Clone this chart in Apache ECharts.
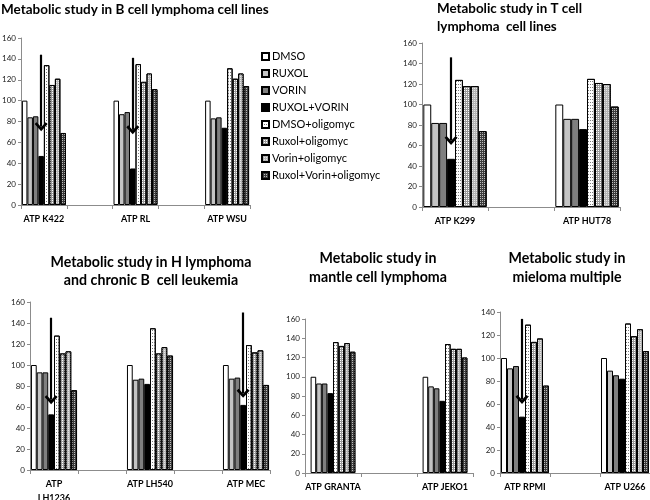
<!DOCTYPE html>
<html><head><meta charset="utf-8">
<script src="https://cdn.jsdelivr.net/npm/echarts@6/dist/echarts.min.js"></script>
<style>html,body{margin:0;padding:0;background:#fff}#c{width:650px;height:500px}</style>
</head><body><div id="c"></div>
<script>
const treatments = ['DMSO','RUXOL','VORIN','RUXOL+VORIN','DMSO+oligomyc','Ruxol+oligomyc','Vorin+oligomyc','Ruxol+Vorin+oligomyc'];

// B cell lymphoma
const bCellLines = ['ATP K422','ATP RL','ATP WSU'];
const bCellValues = [
  [100,84,85,47,134,115,121,69],
  [100,87,89,35,135,118,126,111],
  [100,83,84,74,131,121,126,114]
];
const bCellArrows = [[144,75],[141,72],null];

// T cell lymphoma
const tCellLines = ['ATP K299','ATP HUT78'];
const tCellValues = [
  [100,82,82,47,124,118,118,74],
  [100,86,86,76,125,121,120,98]
];
const tCellArrows = [[146,65],null];

// H lymphoma and chronic B cell leukemia
const hLines = ['ATP\nLH1236','ATP LH540','ATP MEC'];
const hValues = [
  [100,93,93,53,128,111,113,76],
  [100,86,87,82,135,111,117,109],
  [100,87,88,62,119,112,114,81]
];
const hArrows = [[145,67],null,[150,73]];

// mantle cell lymphoma
const mantleLines = ['ATP GRANTA','ATP JEKO1'];
const mantleValues = [
  [100,93,93,83,136,132,135,126],
  [100,90,88,75,134,129,129,120]
];
const mantleArrows = [null,null];

// mieloma multiple
const myelomaLines = ['ATP RPMI','ATP U266'];
const myelomaValues = [
  [100,91,93,49,129,114,117,76],
  [100,89,85,82,130,119,125,106]
];
const myelomaArrows = [[134,64],null];

const panelTitles = [
  'Metabolic study in B cell lymphoma cell lines',
  'Metabolic study in T cell\nlymphoma  cell lines',
  'Metabolic study in H lymphoma\nand chronic B  cell leukemia',
  'Metabolic study in\nmantle cell lymphoma',
  'Metabolic study in\nmieloma multiple'
];
const yMaxes = [160,160,160,160,140];

// ---- styling / layout ----
const FONT = 'Lato';
const fills = ['#ffffff','#c4c4c4','#7f7f7f','#000000','#ffffff','#9a9a9a','#b4b4b4','#3c3c3c'];
const decals = [
  null,null,null,null,
  {symbol:'rect', symbolSize:1, color:'#7a7a7a', dashArrayX:[1,1], dashArrayY:[1,2]},
  {symbol:'rect', symbolSize:1, color:'#ffffff', dashArrayX:[1,1], dashArrayY:[1,1]},
  {symbol:'rect', symbolSize:1, color:'#e6e6e6', dashArrayX:[1,1], dashArrayY:[1,1]},
  {symbol:'rect', symbolSize:1, color:'#bdbdbd', dashArrayX:[1,1], dashArrayY:[1,1]}
];
const panels = [
  {lines:bCellLines, values:bCellValues, arrows:bCellArrows, gap:'4%', grid:{left:21, top:38, width:229, height:167}},
  {lines:tCellLines, values:tCellValues, arrows:tCellArrows, gap:'4%', grid:{left:422, top:43, width:198, height:164}},
  {lines:hLines, values:hValues, arrows:hArrows, gap:'4%', grid:{left:30, top:302, width:240, height:168}},
  {lines:mantleLines, values:mantleValues, arrows:mantleArrows, gap:'20%', grid:{left:305, top:319, width:168, height:154}},
  {lines:myelomaLines, values:myelomaValues, arrows:myelomaArrows, gap:'4%', grid:{left:500, top:312, width:150, height:161}}
];
const titlePos = [
  {left:1, top:1, textAlign:'left', size:13.5, lh:18},
  {left:437, top:0, textAlign:'left', size:13.4, lh:18},
  {left:151, top:253, textAlign:'center', size:14.2, lh:18},
  {left:378, top:249, textAlign:'center', size:14.2, lh:19},
  {left:567, top:249, textAlign:'center', size:14.2, lh:19}
];
const chevron = 'path://M0,8 L8,0 L16,8 L13.5,10 L8,4.5 L2.5,10 Z';

const grids=[], xAxes=[], yAxes=[], series=[], titles=[];
panels.forEach((p, pi) => {
  const cats = [];
  p.lines.forEach((l, i) => { if (i > 0) cats.push(' '.repeat(i)); cats.push(l); });
  grids.push(Object.assign({containLabel:false, outerBoundsMode:'none'}, p.grid));
  xAxes.push({
    type:'category', gridIndex:pi, data:cats,
    axisLine:{lineStyle:{color:'#8c8c8c', width:1}},
    axisTick:{show:true, length:4, lineStyle:{color:'#8c8c8c'}},
    axisLabel:{interval:0, margin:7, fontSize:9, fontWeight:'bold', color:'#000', fontFamily:FONT,
               lineHeight:14, verticalAlign:'top'}
  });
  yAxes.push({
    type:'value', gridIndex:pi, min:0, max:yMaxes[pi], interval:20,
    axisLine:{show:true, lineStyle:{color:'#8c8c8c', width:1}},
    axisTick:{show:true, length:3, lineStyle:{color:'#8c8c8c'}},
    splitLine:{show:false},
    axisLabel:{fontSize:8, color:'#222', margin:5, fontFamily:FONT}
  });
  const tp = titlePos[pi];
  titles.push({text:panelTitles[pi], left:tp.left, top:tp.top, textAlign:tp.textAlign, padding:0,
    textStyle:{fontSize:tp.size, fontWeight:'bold', color:'#000', fontFamily:FONT, lineHeight:tp.lh}});
  treatments.forEach((t, ti) => {
    const data = [];
    p.values.forEach((v, i) => { if (i > 0) data.push('-'); data.push(v[ti]); });
    const itemStyle = {color:fills[ti], borderColor:'#000', borderWidth:1};
    if (decals[ti]) itemStyle.decal = decals[ti];
    const s = {
      type:'bar', name:t, xAxisIndex:pi, yAxisIndex:pi, data:data,
      barGap:'0%', barCategoryGap:p.gap, animation:false,
      itemStyle:itemStyle,
      emphasis:{disabled:true}
    };
    if (ti === 3) {
      const ml = [];
      p.arrows.forEach((a, i) => { if (a) ml.push([{coord:[2*i, a[0]]}, {coord:[2*i, a[1]]}]); });
      if (ml.length) s.markLine = {
        silent:true, animation:false, symbol:['none', chevron], symbolSize:[13,9],
        lineStyle:{color:'#000', width:2.2, type:'solid'}, label:{show:false},
        emphasis:{disabled:true}, data:ml
      };
    }
    series.push(s);
  });
});

const chart = echarts.init(document.getElementById('c'), null, {renderer:'canvas'});
chart.setOption({
  backgroundColor:'#fff',
  animation:false,
  title:titles,
  legend:{
    data:treatments, orient:'vertical', left:256, top:46, itemWidth:7, itemHeight:7, itemGap:6,
    icon:'rect', selectedMode:false,
    textStyle:{fontSize:11, color:'#000', fontFamily:FONT, padding:[0,0,0,-2]}
  },
  grid:grids, xAxis:xAxes, yAxis:yAxes, series:series
});
</script></body></html>
